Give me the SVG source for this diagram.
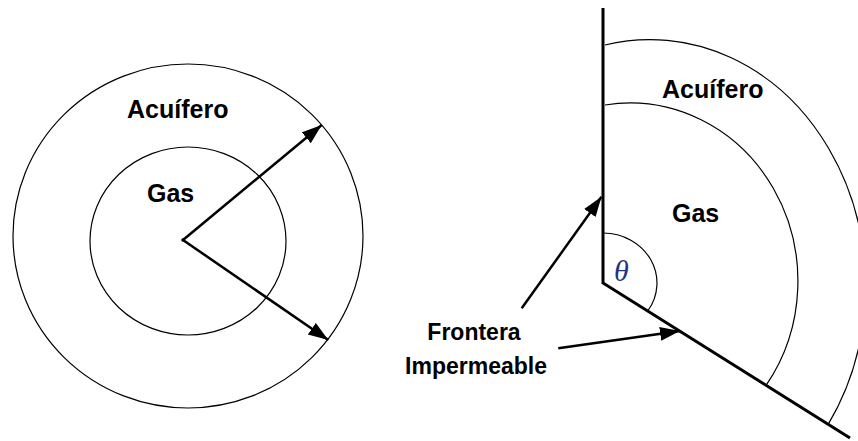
<svg xmlns="http://www.w3.org/2000/svg" width="858" height="441" viewBox="0 0 858 441">
<style>
.thin{fill:none;stroke:#000;stroke-width:1.2}
.thick{fill:none;stroke:#000;stroke-width:3}
.arr{fill:none;stroke:#000;stroke-width:2.5;marker-end:url(#ah)}
.lbl{font-family:"Liberation Sans",Arial,sans-serif;font-weight:bold;font-size:25px;fill:#000}
.lbl2{font-family:"Liberation Sans",Arial,sans-serif;font-weight:bold;font-size:23px;fill:#000;text-anchor:middle}
.theta{font-family:"Liberation Serif","Times New Roman",serif;font-style:italic;font-size:30px;fill:#1f3585}
</style>
<defs>
<marker id="ah" markerUnits="userSpaceOnUse" markerWidth="22" markerHeight="16" refX="20" refY="7" orient="auto">
<path d="M0,0 L20,7 L0,14 Z" fill="#000"/>
</marker>
</defs>
<rect width="858" height="441" fill="#fff"/>
<g id="left-diagram">
<g id="left-aquifer">
<ellipse class="thin" cx="188" cy="236" rx="175" ry="172"/>
<text class="lbl" x="127" y="118">Acuífero</text>
</g>
<g id="left-gas">
<ellipse class="thin" cx="188" cy="241" rx="98" ry="94"/>
<text class="lbl" x="147" y="202">Gas</text>
</g>
<circle id="left-center" cx="183" cy="240" r="1.8" fill="#000"/>
</g>
<g id="right-diagram">
<g id="boundary">
<polyline class="thick" points="603,8 603,283 850,438"/>
</g>
<g id="right-aquifer">
<path class="thin" d="M605,45 A215.5,246.4 0 0 1 828.2,424.4"/>
<text class="lbl" x="662" y="98">Acuífero</text>
</g>
<g id="right-gas">
<path class="thin" d="M605,105 A168,178 0 0 1 766,385.4"/>
<text class="lbl" x="672" y="222">Gas</text>
</g>
<g id="angle">
<path class="thin" d="M603,233 A54,50 0 0 1 647.7,311"/>
<text class="theta" x="614" y="281">θ</text>
</g>
<g id="frontera-label">
<text class="lbl2" x="474" y="340">Frontera</text>
<text class="lbl2" x="476" y="374">Impermeable</text>
</g>
</g>
<g id="connectors">
<line class="arr" x1="183" y1="240" x2="321.7" y2="125"/>
<line class="arr" x1="183" y1="240" x2="328.3" y2="340"/>
<line class="arr" x1="521.7" y1="308.3" x2="601.5" y2="196.7"/>
<line class="arr" x1="558.3" y1="348.3" x2="680" y2="331"/>
</g>
</svg>
